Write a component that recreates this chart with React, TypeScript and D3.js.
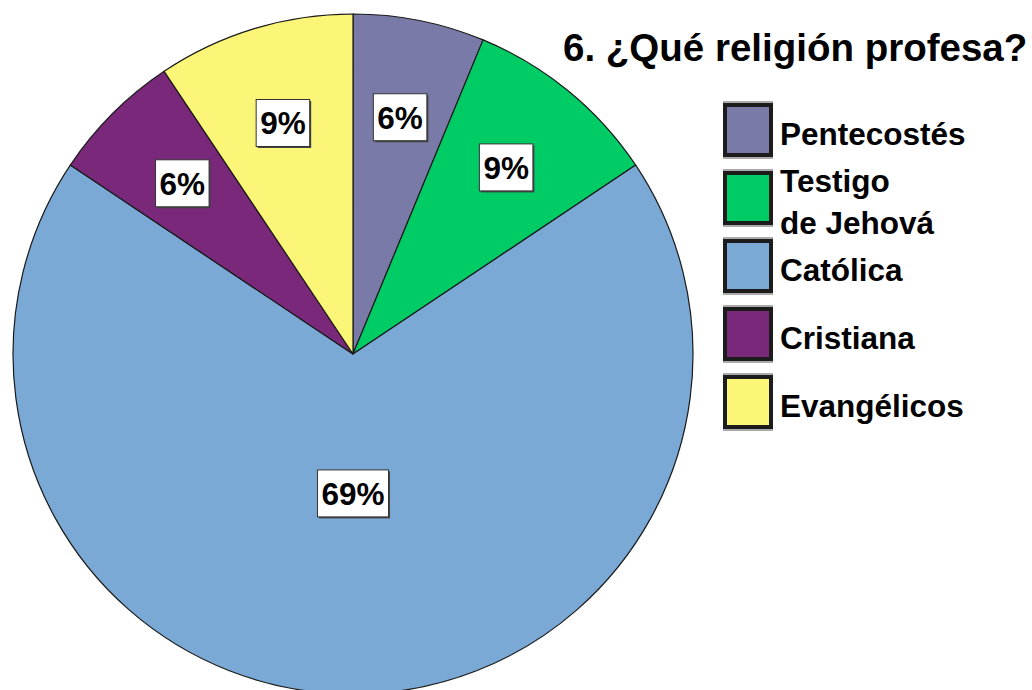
import React, { useEffect, useRef } from "react";
import * as d3 from "d3";

// respondent counts per religion, clockwise from 12 o'clock
const categories = ["Pentecostés", "Testigo de Jehová", "Católica", "Cristiana", "Evangélicos"];
const legendLines = [["Pentecostés"], ["Testigo", "de Jehová"], ["Católica"], ["Cristiana"], ["Evangélicos"]];
const counts = [2, 3, 22, 2, 3];
const colors = ["#7a7aa8", "#00cc66", "#7aa9d6", "#7a287a", "#fbf677"];
const title = "6. ¿Qué religión profesa?";

const WIDTH = 1032;
const HEIGHT = 690;
const FONT = "'Liberation Sans', Arial, Helvetica, sans-serif";

const App = () => {
    const ref = useRef<SVGSVGElement>(null);

    useEffect(() => {
        const svg = d3.select(ref.current);
        svg.selectAll("*").remove();

        const cx = 353, cy = 354, radius = 340;
        const total = d3.sum(counts);

        const pie = d3.pie<number>().sort(null).value(d => d);
        const arcs = pie(counts);
        const arc = d3.arc<d3.PieArcDatum<number>>().innerRadius(0).outerRadius(radius);

        const g = svg.append("g").attr("transform", `translate(${cx},${cy})`);

        g.selectAll("path.slice")
            .data(arcs)
            .enter()
            .append("path")
            .attr("class", "slice")
            .attr("d", arc)
            .attr("fill", (d, i) => colors[i])
            .attr("stroke", "#1a1a1a")
            .attr("stroke-width", 1.2)
            .attr("stroke-linejoin", "round");

        // percentage labels in white boxes
        const labelArc = (d: d3.PieArcDatum<number>) => {
            const r = (d.endAngle - d.startAngle) > Math.PI ? radius * 0.41 : radius * 0.71;
            return d3.arc<d3.PieArcDatum<number>>().innerRadius(r).outerRadius(r).centroid(d);
        };

        arcs.forEach((d) => {
            const [lx, ly] = labelArc(d);
            const txt = Math.round((d.value / total) * 100) + "%";
            const lg = g.append("g").attr("transform", `translate(${lx},${ly})`);
            const t = lg.append("text")
                .attr("text-anchor", "middle")
                .attr("y", 11.5)
                .attr("font-family", FONT)
                .attr("font-weight", "bold")
                .attr("font-size", 31.5)
                .attr("fill", "#000")
                .text(txt);
            const bb = (t.node() as SVGTextElement).getBBox();
            const w = bb.width + 8;
            const h = 47;
            lg.insert("rect", "text")
                .attr("x", -w / 2 + 1.5)
                .attr("y", -h / 2 + 1.5)
                .attr("width", w)
                .attr("height", h)
                .attr("fill", "#444");
            lg.insert("rect", "text")
                .attr("x", -w / 2)
                .attr("y", -h / 2)
                .attr("width", w)
                .attr("height", h)
                .attr("fill", "#fff")
                .attr("stroke", "#333")
                .attr("stroke-width", 1);
        });

        // title
        svg.append("text")
            .attr("x", 563)
            .attr("y", 61)
            .attr("font-family", FONT)
            .attr("font-weight", "bold")
            .attr("font-size", 38.5)
            .attr("fill", "#000")
            .text(title);

        // legend
        const legend = svg.append("g");
        const sw = 46, sh = 50, step = 68, y0 = 105, lx = 725;
        categories.forEach((c, i) => {
            const y = y0 + i * step;
            legend.append("rect")
                .attr("x", lx - 1)
                .attr("y", y - 3)
                .attr("width", sw + 2)
                .attr("height", sh + 6)
                .attr("fill", "none")
                .attr("stroke", "#aaa")
                .attr("stroke-width", 2);
            legend.append("rect")
                .attr("x", lx)
                .attr("y", y)
                .attr("width", sw)
                .attr("height", sh)
                .attr("fill", colors[i])
                .attr("stroke", "#1c1c1c")
                .attr("stroke-width", 4);
            const lines = legendLines[i];
            const mid = y + sh / 2 + 15;
            const lh = 42;
            lines.forEach((line, j) => {
                legend.append("text")
                    .attr("x", lx + 55)
                    .attr("y", mid + (j - (lines.length - 1) / 2) * lh)
                    .attr("font-family", FONT)
                    .attr("font-weight", "bold")
                    .attr("font-size", 31.5)
                    .attr("fill", "#000")
                    .text(line);
            });
        });
    }, []);

    return (
        <svg
            ref={ref}
            width={WIDTH}
            height={HEIGHT}
            style={{ position: "absolute", left: 0, top: 0, background: "#fff" }}
        />
    );
};

export default App;
